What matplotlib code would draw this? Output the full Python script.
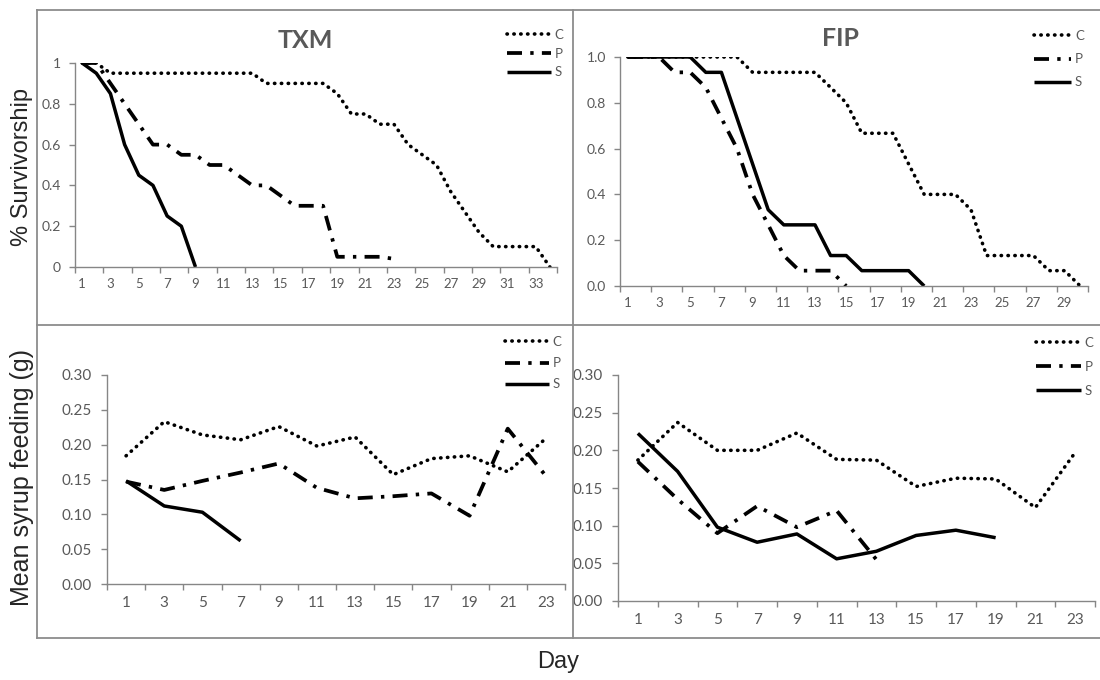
import numpy as np
import matplotlib
matplotlib.use("Agg")
import matplotlib.pyplot as plt
from matplotlib.lines import Line2D

# survivorship, TXM (days 1..34)
txm_c = [1.0, 1.0, 0.95, 0.95, 0.95, 0.95, 0.95, 0.95, 0.95, 0.95, 0.95, 0.95, 0.95,
         0.90, 0.90, 0.90, 0.90, 0.90, 0.85, 0.75, 0.75, 0.70, 0.70, 0.60, 0.55, 0.50,
         0.37, 0.27, 0.17, 0.10, 0.10, 0.10, 0.10, 0.0]
txm_p = [1.0, 1.0, 0.9, 0.8, 0.7, 0.6, 0.6, 0.55, 0.55, 0.5, 0.5, 0.45, 0.4, 0.4,
         0.35, 0.3, 0.3, 0.3, 0.05, 0.05, 0.05, 0.05, 0.04]
txm_s = [1.0, 0.95, 0.85, 0.6, 0.45, 0.4, 0.25, 0.2, 0.0]

# survivorship, FIP (days 1..30)
fip_c = [1, 1, 1, 1, 1, 1, 1, 1, 0.933, 0.933, 0.933, 0.933, 0.933, 0.867, 0.8,
         0.667, 0.667, 0.667, 0.533, 0.4, 0.4, 0.4, 0.333, 0.133, 0.133, 0.133, 0.133,
         0.067, 0.067, 0.0]
fip_p = [1, 1, 1, 0.933, 0.933, 0.867, 0.733, 0.6, 0.4, 0.267, 0.133, 0.067, 0.067, 0.067, 0.0]
fip_s = [1, 1, 1, 1, 1, 0.933, 0.933, 0.733, 0.533, 0.333, 0.267, 0.267, 0.267,
         0.133, 0.133, 0.067, 0.067, 0.067, 0.067, 0.0]

# mean syrup feeding (g), recorded every other day
feed_days = [1, 3, 5, 7, 9, 11, 13, 15, 17, 19, 21, 23]
txm_feed_c = [0.184, 0.233, 0.214, 0.207, 0.226, 0.198, 0.211, 0.157, 0.180, 0.184, 0.161, 0.209]
txm_feed_p = [0.147, 0.135, 0.148, 0.160, 0.173, 0.138, 0.123, 0.126, 0.130, 0.098, 0.223, 0.155]
txm_feed_s = [0.148, 0.112, 0.103, 0.062]
fip_feed_c = [0.187, 0.237, 0.200, 0.200, 0.223, 0.188, 0.187, 0.152, 0.163, 0.162, 0.124, 0.197]
fip_feed_p = [0.185, 0.135, 0.090, 0.126, 0.098, 0.120, 0.055]
fip_feed_s = [0.2225, 0.172, 0.098, 0.078, 0.089, 0.056, 0.066, 0.087, 0.094, 0.084]

series_names = ["C", "P", "S"]
surv_ticks = [0, 0.2, 0.4, 0.6, 0.8, 1.0]
txm_ylabels = ["0", "0.2", "0.4", "0.6", "0.8", "1"]
fip_ylabels = ["0.0", "0.2", "0.4", "0.6", "0.8", "1.0"]
feed_ticks = [0, 0.05, 0.10, 0.15, 0.20, 0.25, 0.30]
feed_ylabels = ["0.00", "0.05", "0.10", "0.15", "0.20", "0.25", "0.30"]

W, H = 1100, 680
GRID = "#8c8c8c"
AXC = "#868686"
TXT = "#595959"
TICKFONT = "Lato"

fig = plt.figure(figsize=(W / 100, H / 100), dpi=100)


def px_axes(x0, y0, x1, y1):
    return fig.add_axes([x0 / W, 1 - y1 / H, (x1 - x0) / W, (y1 - y0) / H])


def styles():
    # C dotted, P dash-dot, S solid
    return [dict(lw=2.6, linestyle=(0, (0.1, 1.8)), dash_capstyle="round"),
            dict(lw=2.7, linestyle=(0, (4, 2.2, 0.9, 2.2)), dash_capstyle="butt"),
            dict(lw=2.5, linestyle="-", solid_capstyle="butt")]


def style_axes(ax, xlim, major, minor, ylim, yticks, ylabels, xfs, yfs, xpad, ypad):
    ax.set_xlim(*xlim)
    ax.set_ylim(*ylim)
    for s in ["top", "right"]:
        ax.spines[s].set_visible(False)
    for s in ["left", "bottom"]:
        ax.spines[s].set_color(AXC)
        ax.spines[s].set_linewidth(1.0)
    ax.set_xticks(major)
    ax.set_xticklabels([])
    ax.set_xticks(minor, minor=True)
    ax.set_xticklabels([str(d) for d in minor], minor=True, fontsize=xfs,
                       color=TXT, family=TICKFONT)
    ax.tick_params(axis="x", which="major", length=4, width=1, color=AXC)
    ax.tick_params(axis="x", which="minor", length=0, pad=xpad)
    ax.set_yticks(yticks)
    ax.set_yticklabels(ylabels, fontsize=yfs, color=TXT, family=TICKFONT)
    ax.tick_params(axis="y", length=4, width=1, color=AXC, pad=ypad)
    ax.patch.set_alpha(0)


def add_legend(ax, x, y, hl, ls):
    ax.legend(loc="upper left", bbox_to_anchor=(x / W, 1 - y / H),
              bbox_transform=fig.transFigure, frameon=False, borderpad=0,
              borderaxespad=0, handlelength=hl, handletextpad=0.3,
              labelspacing=ls, prop=dict(family=TICKFONT, size=9.5),
              labelcolor=TXT)


# panel borders
for (xa, ya, xb, yb) in [(37, 10, 1100, 10), (37, 10, 37, 638), (573, 10, 573, 638),
                         (37, 325, 1100, 325), (37, 638, 1100, 638)]:
    fig.add_artist(Line2D([xa / W, xb / W], [1 - ya / H, 1 - yb / H],
                          color=GRID, lw=1.3, transform=fig.transFigure))

# TXM survivorship
ax1 = px_axes(75, 63, 557, 267)
for vals, name, st in zip([txm_c, txm_p, txm_s], series_names, styles()):
    ax1.plot(np.arange(1, len(vals) + 1), vals, color="black", label=name, **st)
style_axes(ax1, (0.5, 34.5), np.arange(0.5, 35, 2), list(range(1, 35, 2)),
           (0, 1), surv_ticks, txm_ylabels, 9.5, 10, 8, 6)
add_legend(ax1, 507, 29, 3.3, 0.5)
fig.text(305 / W, 1 - 40 / H, "TXM", ha="center", va="center", fontsize=18,
         fontweight="bold", color=TXT, family=TICKFONT)

# FIP survivorship
ax2 = px_axes(620, 57, 1088, 286)
for vals, name, st in zip([fip_c, fip_p, fip_s], series_names, styles()):
    ax2.plot(np.arange(1, len(vals) + 1), vals, color="black", label=name, **st)
style_axes(ax2, (0.5, 30.5), np.arange(0.5, 31, 2), list(range(1, 31, 2)),
           (0, 1), surv_ticks, fip_ylabels, 9.5, 10, 8, 6)
add_legend(ax2, 1034, 30, 2.8, 0.85)
fig.text(840 / W, 1 - 39 / H, "FIP", ha="center", va="center", fontsize=18,
         fontweight="bold", color=TXT, family=TICKFONT)

# TXM feeding
ax3 = px_axes(107, 375, 565, 584)
for vals, name, st in zip([txm_feed_c, txm_feed_p, txm_feed_s], series_names, styles()):
    ax3.plot(feed_days[:len(vals)], vals, color="black", label=name, **st)
style_axes(ax3, (0, 24), np.arange(0, 25, 2), feed_days,
           (0, 0.3), feed_ticks, feed_ylabels, 11, 11, 8.5, 7)
add_legend(ax3, 505, 336, 3.3, 0.7)

# FIP feeding
ax4 = px_axes(618, 375, 1095, 601)
for vals, name, st in zip([fip_feed_c, fip_feed_p, fip_feed_s], series_names, styles()):
    ax4.plot(feed_days[:len(vals)], vals, color="black", label=name, **st)
style_axes(ax4, (0, 24), np.arange(0, 25, 2), feed_days,
           (0, 0.3), feed_ticks, feed_ylabels, 11, 11, 8.5, 7)
add_legend(ax4, 1036, 337, 3.4, 0.9)

# shared axis titles
fig.text(22 / W, 1 - 167 / H, "% Survivorship", rotation=90, ha="center", va="center",
         fontsize=17, color="#262626", family="Liberation Sans")
fig.text(22 / W, 1 - 478 / H, "Mean syrup feeding (g)", rotation=90, ha="center",
         va="center", fontsize=18, color="#262626", family="Liberation Sans")
fig.text(558 / W, 1 - 662 / H, "Day", ha="center", va="center", fontsize=17,
         color="#262626", family="Liberation Sans")

fig.savefig("out.png", dpi=100)
